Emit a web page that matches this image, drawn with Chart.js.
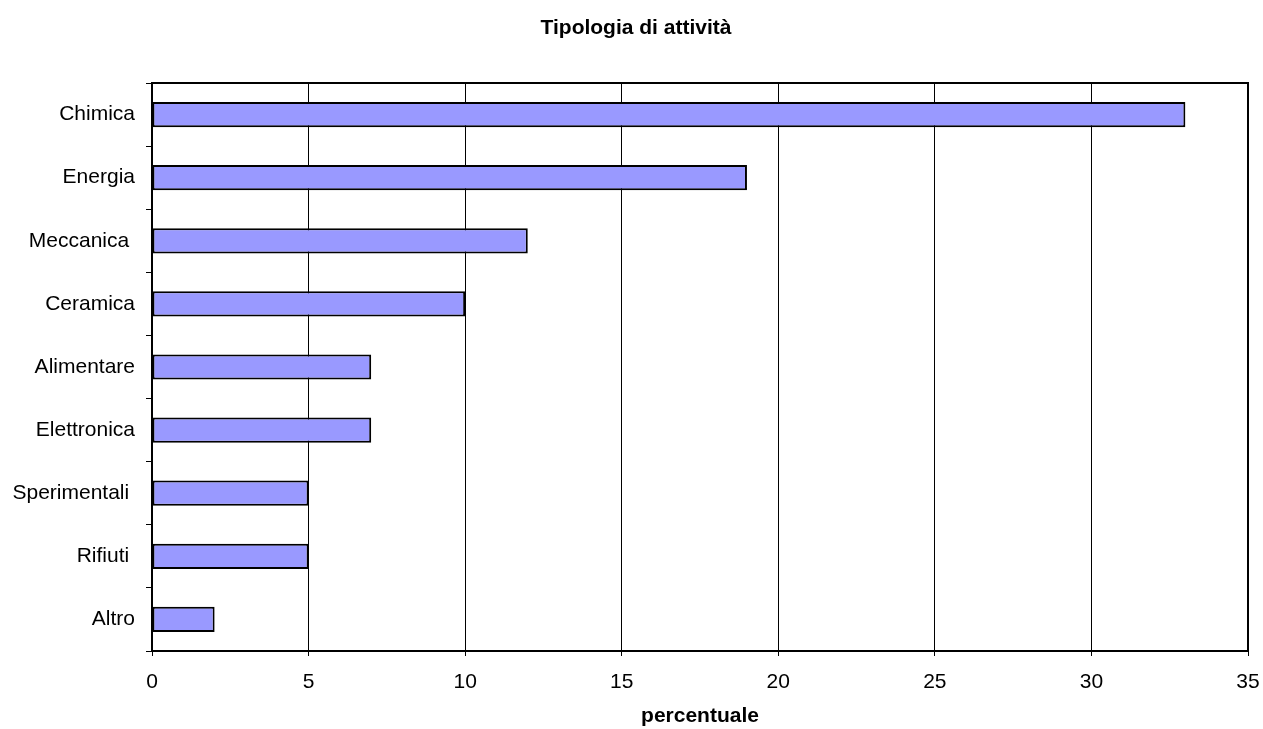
<!DOCTYPE html>
<html>
<head>
<meta charset="utf-8">
<script src="https://cdn.jsdelivr.net/npm/chart.js@4/dist/chart.umd.min.js"></script>
<style>
  html, body { margin: 0; padding: 0; background: #fff; }
  #wrap { width: 1263px; height: 729px; }
</style>
</head>
<body>
<div id="wrap"><canvas id="c" width="1263" height="729"></canvas></div>
<script>
// Activity categories and their share (percent)
const categories = ['Chimica', 'Energia', 'Meccanica ', 'Ceramica', 'Alimentare', 'Elettronica', 'Sperimentali ', 'Rifiuti ', 'Altro'];
const percentages = [33, 19, 12, 10, 7, 7, 5, 5, 2];
const xTicks = [0, 5, 10, 15, 20, 25, 30, 35];

const FONT = 'Liberation Sans, Arial, sans-serif';
const TITLE = 'Tipologia di attività';

// Draws the black frame around the plotting area
const frame = {
  id: 'frame',
  afterDatasetsDraw(chart) {
    const { ctx, chartArea: a } = chart;
    ctx.save();
    ctx.strokeStyle = '#000';
    ctx.lineWidth = 2;
    ctx.strokeRect(a.left, a.top, a.right - a.left, a.bottom - a.top);
    ctx.restore();
  }
};

// Chart heading, centred over the whole page width
const heading = {
  id: 'heading',
  afterDraw(chart) {
    const { ctx } = chart;
    ctx.save();
    ctx.fillStyle = '#000';
    ctx.font = 'bold 21px ' + FONT;
    ctx.textAlign = 'center';
    ctx.textBaseline = 'middle';
    ctx.fillText(TITLE, 636, 28.6);
    ctx.restore();
  }
};

new Chart(document.getElementById('c'), {
  type: 'bar',
  data: {
    labels: categories,
    datasets: [{
      data: percentages,
      backgroundColor: '#9999FF',
      borderColor: '#000',
      borderWidth: 2,
      borderSkipped: false,
      barPercentage: 0.8,
      categoryPercentage: 0.5
    }]
  },
  options: {
    indexAxis: 'y',
    responsive: false,
    animation: false,
    layout: { padding: { left: 0, right: 15, top: 83, bottom: 0 } },
    plugins: {
      legend: { display: false },
      tooltip: { enabled: false },
      title: { display: false }
    },
    scales: {
      x: {
        min: 0,
        max: 35,
        afterBuildTicks(axis) { axis.ticks = xTicks.map(v => ({ value: v })); },
        afterFit(axis) {
          axis.height = 78;
          axis.paddingLeft = 0;
          axis.paddingRight = 0;
        },
        grid: {
          color: '#000',
          lineWidth: 1,
          tickLength: 5,
          drawTicks: true,
          tickColor: '#000'
        },
        border: { display: false },
        ticks: {
          color: '#000',
          font: { family: FONT, size: 21 },
          padding: 14,
          maxRotation: 0
        },
        title: {
          display: true,
          text: 'percentuale',
          color: '#000',
          font: { family: FONT, size: 21, weight: 'bold' },
          padding: { top: 8, bottom: 0 }
        }
      },
      y: {
        afterFit(axis) {
          axis.width = 152;
          axis.paddingTop = 0;
          axis.paddingBottom = 0;
        },
        grid: {
          offset: true,
          drawOnChartArea: false,
          tickLength: 6,
          tickColor: '#000',
          color: '#000'
        },
        border: { display: false },
        ticks: {
          color: '#000',
          font: { family: FONT, size: 21 },
          padding: 11
        }
      }
    }
  },
  plugins: [frame, heading]
});
</script>
</body>
</html>
